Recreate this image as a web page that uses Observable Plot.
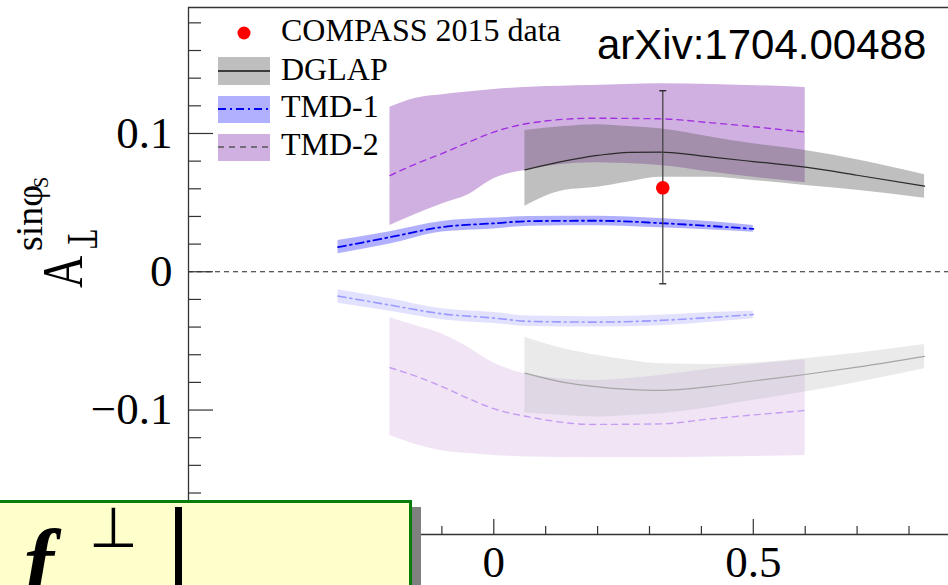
<!DOCTYPE html>
<html><head><meta charset="utf-8">
<script src="https://cdn.jsdelivr.net/npm/d3@7"></script>
<script src="https://cdn.jsdelivr.net/npm/@observablehq/plot@0.6"></script>
<style>
html,body{margin:0;padding:0;background:#fff;overflow:hidden}
#wrap{position:relative;width:948px;height:585px;overflow:hidden;background:#fff}
#wrap svg{position:absolute;left:0;top:0}
#box{position:absolute;left:-6px;top:500px;width:418px;height:110px;box-sizing:border-box;
 background:#ffffcc;border:3px solid #0a7d0a;box-shadow:9px 7px 0 0 #808080}
#fsym{position:absolute;left:24px;top:518px;font:italic bold 90px "Liberation Serif",serif;line-height:1;color:#000}
#perp{position:absolute;left:89px;top:500px;font:56px "DejaVu Sans",sans-serif;line-height:1;color:#000}
#vbar{position:absolute;left:175px;top:507px;width:7px;height:90px;background:#000}
</style></head><body>
<div id="wrap"></div>
<script>
// ---------------- data ----------------
// DGLAP
const dglapX      = [0.06, 0.135, 0.2, 0.26, 0.32, 0.42, 0.5, 0.6, 0.7, 0.83];
const dglapPosMid = [0.0737, 0.0800, 0.0841, 0.0864, 0.0865, 0.0829, 0.0797, 0.0756, 0.0698, 0.0619];
const dglapPosHi  = [0.1022, 0.1050, 0.1063, 0.1050, 0.1034, 0.0973, 0.0925, 0.0877, 0.0810, 0.0701];
const dglapPosLo  = [0.0474, 0.0588, 0.0612, 0.0650, 0.0684, 0.0684, 0.0660, 0.0624, 0.0590, 0.0532];
const dglapNegMid = [-0.0733, -0.0800, -0.0832, -0.0850, -0.0858, -0.0829, -0.0790, -0.0743, -0.0690, -0.0612];
const dglapNegHi  = [-0.0473, -0.0557, -0.0605, -0.0640, -0.0665, -0.0670, -0.0660, -0.0629, -0.0590, -0.0526];
const dglapNegLo  = [-0.1022, -0.1040, -0.1051, -0.1040, -0.1027, -0.0979, -0.0930, -0.0870, -0.0800, -0.0702];
// TMD-2
const tmd2X      = [-0.2, -0.15, -0.1, -0.05, 0, 0.07, 0.19, 0.32, 0.42, 0.6];
const tmd2PosMid = [0.0696, 0.0780, 0.0855, 0.0935, 0.1010, 0.1075, 0.1110, 0.1106, 0.1077, 0.1010];
const tmd2PosHi  = [0.1190, 0.1255, 0.1280, 0.1300, 0.1318, 0.1335, 0.1347, 0.1360, 0.1355, 0.1333];
const tmd2PosLo  = [0.0335, 0.0415, 0.0490, 0.0555, 0.0672, 0.0740, 0.0788, 0.0769, 0.0720, 0.0643];
const tmd2NegMid = [-0.0694, -0.0755, -0.0830, -0.0915, -0.0990, -0.1051, -0.1104, -0.1100, -0.1063, -0.1003];
const tmd2NegHi  = [-0.0333, -0.0390, -0.0450, -0.0545, -0.0660, -0.0745, -0.0786, -0.0750, -0.0702, -0.0637];
const tmd2NegLo  = [-0.1184, -0.1250, -0.1295, -0.1315, -0.1328, -0.1340, -0.1345, -0.1345, -0.1340, -0.1328];
// TMD-1
const tmd1X      = [-0.3, -0.2, -0.1, 0, 0.07, 0.2, 0.32, 0.42, 0.5];
const tmd1PosMid = [0.0178, 0.0250, 0.0323, 0.0350, 0.0366, 0.0369, 0.0352, 0.0330, 0.0310];
const tmd1PosHi  = [0.0226, 0.0290, 0.0364, 0.0388, 0.0400, 0.0402, 0.0385, 0.0362, 0.0335];
const tmd1PosLo  = [0.0130, 0.0200, 0.0287, 0.0310, 0.0330, 0.0333, 0.0318, 0.0302, 0.0286];
const tmd1NegMid = [-0.0176, -0.0241, -0.0304, -0.0335, -0.0359, -0.0364, -0.0352, -0.0330, -0.0309];
const tmd1NegHi  = [-0.0130, -0.0195, -0.0268, -0.0295, -0.0320, -0.0325, -0.0315, -0.0295, -0.0285];
const tmd1NegLo  = [-0.0227, -0.0285, -0.0347, -0.0375, -0.0395, -0.0400, -0.0390, -0.0365, -0.0340];
// COMPASS 2015 data point
const compassX = [0.3256];
const compassY = [0.0607];
const compassLo = [-0.0087];
const compassHi = [0.1309];
// axes
const xDomain = [-0.5882, 0.8761];
const yDomain = [-0.19, 0.1911];
const xMajor = [-0.5, 0, 0.5];
const xMinor = [-0.4, -0.3, -0.2, -0.1, 0.1, 0.2, 0.3, 0.4, 0.6, 0.7, 0.8];
const yMajor = [-0.1, 0, 0.1];
const yMinor = [-0.18, -0.16, -0.14, -0.12, -0.08, -0.06, -0.04, -0.02, 0.02, 0.04, 0.06, 0.08, 0.12, 0.14, 0.16, 0.18];
const legendLabels = ["COMPASS 2015 data", "DGLAP", "TMD-1", "TMD-2"];

// ---------------- tables ----------------
const table = (xs, lo, mid, hi) => xs.map((x, i) => ({x, lo: lo[i], mid: mid[i], hi: hi[i]}));
const dglapPos = table(dglapX, dglapPosLo, dglapPosMid, dglapPosHi);
const dglapNeg = table(dglapX, dglapNegLo, dglapNegMid, dglapNegHi);
const tmd2Pos = table(tmd2X, tmd2PosLo, tmd2PosMid, tmd2PosHi);
const tmd2Neg = table(tmd2X, tmd2NegLo, tmd2NegMid, tmd2NegHi);
const tmd1Pos = table(tmd1X, tmd1PosLo, tmd1PosMid, tmd1PosHi);
const tmd1Neg = table(tmd1X, tmd1NegLo, tmd1NegMid, tmd1NegHi);
const compass = compassX.map((x, i) => ({x, y: compassY[i], lo: compassLo[i], hi: compassHi[i]}));

const curve = "monotone-x";
const band = (d, fill, op) => Plot.areaY(d, {x: "x", y1: "lo", y2: "hi", fill, fillOpacity: op, curve});
const line = (d, stroke, w, dash) => Plot.lineY(d, {x: "x", y: "mid", stroke, strokeWidth: w, strokeDasharray: dash, curve});
const capSymbol = {draw(ctx) { ctx.moveTo(-3.5, 0); ctx.lineTo(3.5, 0); }};
const DASHDOT = "8,4,2,4";
const DASH = "6,5";
const plotH = 585 - 7 - 51, plotW = 948 - 188;
const fmt = d => d === 0 ? "0" : (d < 0 ? "\u2212" : "") + String(Math.abs(d));

const plot = Plot.plot({
  width: 948, height: 585,
  marginLeft: 188, marginRight: 0, marginTop: 7, marginBottom: 51,
  style: {fontFamily: "'Liberation Serif', serif", color: "#000", background: "transparent"},
  x: {domain: xDomain},
  y: {domain: yDomain},
  marks: [
    band(tmd2Neg, "#f0e4f5", 1),
    band(tmd1Neg, "#e2e2ff", 1),
    band(dglapNeg, "#b8b8b8", 0.3),
    band(tmd2Pos, "#d0b0e0", 1),
    band(tmd1Pos, "#b0b0ff", 1),
    band(dglapPos, "#606060", 0.4),
    Plot.ruleY([0], {stroke: "#222", strokeWidth: 1, strokeDasharray: "5,4"}),
    line(tmd2Neg, "#c59cf2", 1.4, DASH),
    line(tmd1Neg, "#9a9aff", 1.6, DASHDOT),
    line(dglapNeg, "#a6a6a6", 1.2, null),
    line(tmd2Pos, "#a030e0", 1.4, DASH),
    line(tmd1Pos, "#0000ee", 1.8, DASHDOT),
    line(dglapPos, "#2a2a2a", 1.2, null),
    Plot.ruleX(compass, {x: "x", y1: "lo", y2: "hi", stroke: "#444", strokeWidth: 1.3}),
    Plot.dot(compass, {x: "x", y: "hi", symbol: capSymbol, stroke: "#222", strokeWidth: 1.3}),
    Plot.dot(compass, {x: "x", y: "lo", symbol: capSymbol, stroke: "#222", strokeWidth: 1.3}),
    Plot.dot(compass, {x: "x", y: "y", r: 6.8, fill: "#ff0000"}),
    // frame
    Plot.ruleX([xDomain[0]], {stroke: "#333", strokeWidth: 1.3}),
    Plot.ruleY([yDomain[0]], {stroke: "#333", strokeWidth: 1.3}),
    Plot.ruleY([yDomain[1]], {stroke: "#333", strokeWidth: 1.3}),
    // inward ticks
    Plot.tickX(xMinor, {x: d => d, insetTop: plotH - 8, stroke: "#333", strokeWidth: 1.2}),
    Plot.tickX(xMajor, {x: d => d, insetTop: plotH - 15, stroke: "#333", strokeWidth: 1.2}),
    Plot.tickY(yMinor, {y: d => d, insetRight: plotW - 13, stroke: "#333", strokeWidth: 1.2}),
    Plot.tickY(yMajor, {y: d => d, insetRight: plotW - 25, stroke: "#333", strokeWidth: 1.2}),
    Plot.axisX({ticks: xMajor, tickSize: 0, tickPadding: 11, fontSize: 45, label: null, tickFormat: fmt}),
    Plot.axisY({ticks: yMajor, tickSize: 0, tickPadding: 16, fontSize: 45, label: null, tickFormat: fmt})
  ]
});

const svg = d3.select(plot);
const serif = "'Liberation Serif', serif";
// legend
const lg = svg.append("g").attr("font-family", serif).attr("font-size", 32).attr("fill", "#000").attr("text-anchor", "start");
lg.append("circle").attr("cx", 244).attr("cy", 33).attr("r", 6.5).attr("fill", "#ff0000");
lg.append("rect").attr("x", 218).attr("y", 57).attr("width", 52).attr("height", 28).attr("fill", "#bebebe");
lg.append("line").attr("x1", 218).attr("x2", 270).attr("y1", 71).attr("y2", 71).attr("stroke", "#111").attr("stroke-width", 1.5);
lg.append("rect").attr("x", 218).attr("y", 96).attr("width", 52).attr("height", 27).attr("fill", "#b0b0ff");
lg.append("line").attr("x1", 218).attr("x2", 270).attr("y1", 109).attr("y2", 109).attr("stroke", "#0000ee").attr("stroke-width", 2).attr("stroke-dasharray", DASHDOT);
lg.append("rect").attr("x", 218).attr("y", 134).attr("width", 52).attr("height", 27).attr("fill", "#d0b0e0");
lg.append("line").attr("x1", 218).attr("x2", 270).attr("y1", 147).attr("y2", 147).attr("stroke", "#555").attr("stroke-width", 1.5).attr("stroke-dasharray", DASH);
[41, 80, 117, 155].forEach((y, i) => lg.append("text").attr("x", 281).attr("y", y).text(legendLabels[i]));

// arXiv tag
svg.append("text").attr("x", 597).attr("y", 59).attr("text-anchor", "start")
  .attr("font-family", "'Liberation Sans', Arial, sans-serif")
  .attr("font-size", 42).attr("fill", "#000").text("arXiv:1704.00488");

// y-axis label A_T^{sin phi_S}
const yl = svg.append("g").attr("font-family", serif).attr("fill", "#000").attr("text-anchor", "start");
yl.append("text").attr("transform", "translate(82,288) rotate(-90) scale(0.8,1)").attr("font-size", 56).text("A");
yl.append("text").attr("transform", "translate(68,230) rotate(90) scale(0.68,1)").attr("font-size", 44).text("T");
yl.append("text").attr("transform", "translate(42,251) rotate(-90)").attr("font-size", 38).text("sinφ");
yl.append("text").attr("transform", "translate(48,188) rotate(-90)").attr("font-size", 20).text("S");

const wrap = document.getElementById("wrap");
wrap.appendChild(plot);
// overlaid clipped panel at bottom-left
wrap.insertAdjacentHTML("beforeend",
  '<div id="box"></div><div id="fsym">f</div><div id="perp">⊥</div><div id="vbar"></div>');
</script>
</body></html>
